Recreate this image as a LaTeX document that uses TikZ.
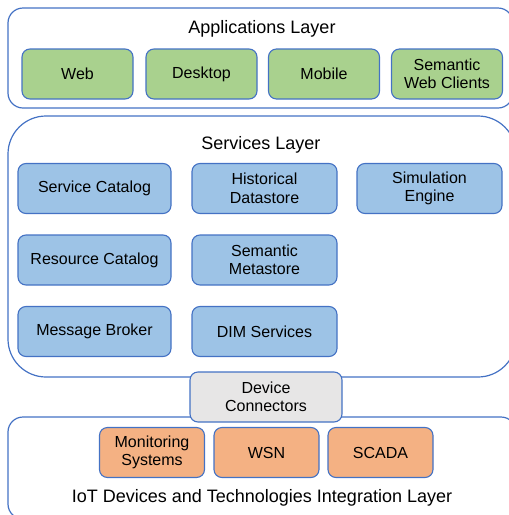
\documentclass[tikz,border=0pt]{standalone}
\usepackage{fontspec}
\setmainfont{Liberation Sans}
\definecolor{edge}{HTML}{4472C4}
\definecolor{appgreen}{HTML}{A9D18E}
\definecolor{srvblue}{HTML}{9DC3E6}
\definecolor{devorange}{HTML}{F4B183}
\definecolor{congray}{HTML}{E7E6E6}

\begin{document}
\begin{tikzpicture}[x=1pt, y=-1pt]
		\tikzstyle{layer} = [draw=edge, line width=1.2pt, rounded corners=15pt]
		\tikzstyle{title} = [font=\fontsize{18}{21}\selectfont]
		\tikzstyle{box} = [draw=edge, line width=1.1pt, rounded corners=8pt, align=center, inner sep=0pt, minimum height=50pt, font=\fontsize{16}{18.5}\selectfont]
		\tikzstyle{app} = [box, fill=appgreen, minimum width=111pt]
		\tikzstyle{srv} = [box, fill=srvblue, minimum width=145pt]
		\tikzstyle{dev} = [box, fill=devorange, minimum width=105pt]
		\useasboundingbox (0,0) rectangle (509,515);
		% layers
		\draw [layer] (8,8) rectangle (513,108);
		\draw [layer, rounded corners=38pt] (8,116) rectangle (516,377);
		\draw [layer] (8,417) rectangle (516,519);
		\node [title] (applbl) at (262,29) {Applications Layer};
		\node [title] (srvlbl) at (261,145) {Services Layer};
		\node [title] (iotlbl) at (262,498) {IoT Devices and Technologies Integration Layer};
		% applications
		\node [app] (web) at (77.5,74) {Web};
		\node [app] (desktop) at (201.5,74) {Desktop};
		\node [app] (mobile) at (324,74) {Mobile};
		\node [app] (swc) at (447,74) {Semantic\\Web Clients};
		% services
		\node [srv, minimum width=153pt] (svccat) at (94.5,188.5) {Service Catalog};
		\node [srv] (histds) at (264.5,188.5) {Historical\\Datastore};
		\node [srv] (simeng) at (429.5,188.5) {Simulation\\Engine};
		\node [srv, minimum width=153pt] (rescat) at (94.5,260) {Resource Catalog};
		\node [srv] (semms) at (264.5,260) {Semantic\\Metastore};
		\node [srv, minimum width=153pt] (msgbrk) at (94.5,331.5) {Message Broker};
		\node [srv] (dimsrv) at (264.5,331.5) {DIM Services};
		% devices
		\node [box, fill=congray, minimum width=152pt] (devcon) at (266,397) {Device\\Connectors};
		\node [dev] (monsys) at (152,452.5) {Monitoring\\Systems};
		\node [dev] (wsn) at (266.5,452.5) {WSN};
		\node [dev] (scada) at (380.5,452.5) {SCADA};
\end{tikzpicture}
\end{document}
